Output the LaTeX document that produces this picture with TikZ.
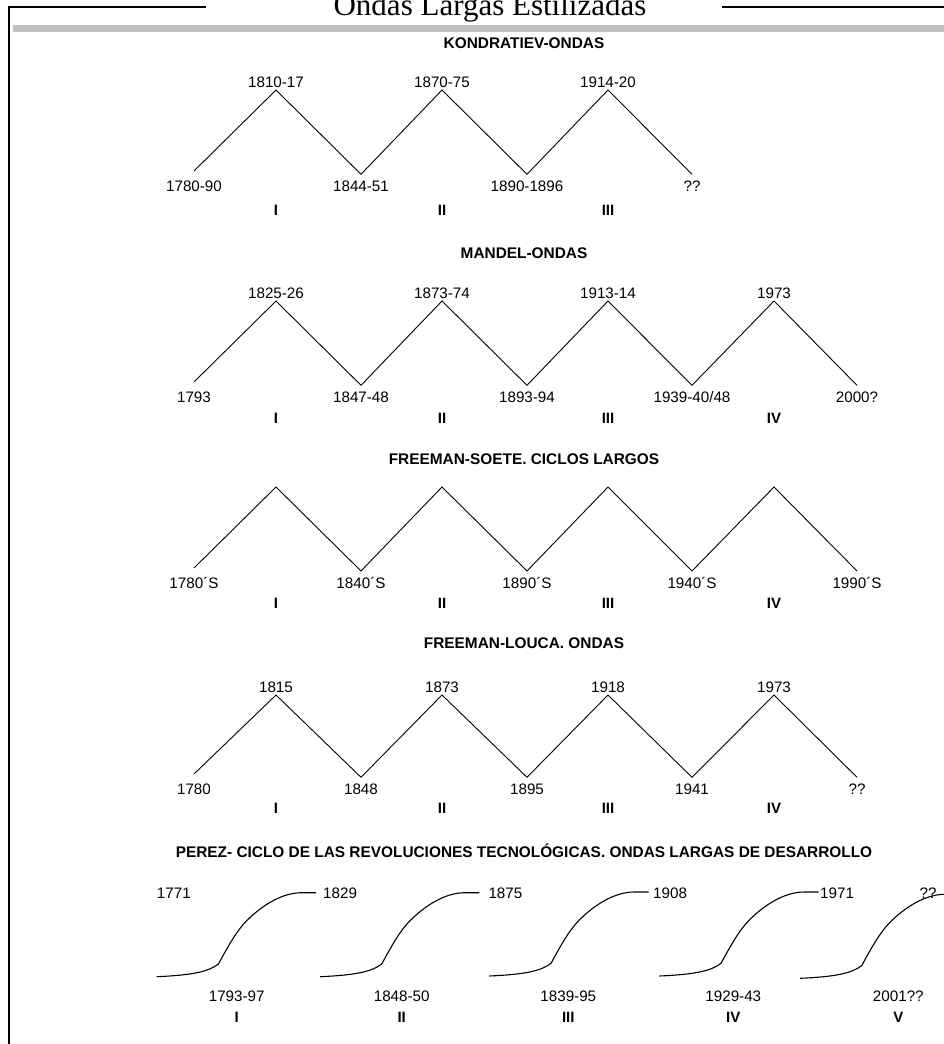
\documentclass[tikz,border=0pt]{standalone}
\usepackage{fontspec}
\setmainfont{Liberation Serif}
\setsansfont{Liberation Sans}
\usepackage{tikz}
\usetikzlibrary{positioning}
\usepackage{xcolor}
\definecolor{BarGray}{HTML}{C0C0C0}

\begin{document}
\begin{tikzpicture}[x=1pt,y=-1pt,
  framerule/.style={line width=2pt},
  waveline/.style={line width=0.9pt,line join=miter},
  growth/.style={line width=1.1pt,line join=round},
  year/.style={font=\sffamily\fontsize{15.2}{18}\selectfont,inner sep=0pt,text height=10.9pt,text depth=0pt},
  roman/.style={year,font=\sffamily\bfseries\fontsize{15}{18}\selectfont},
  heading/.style={year,font=\sffamily\bfseries\fontsize{15.4}{18}\selectfont}]
  \useasboundingbox (0,0) rectangle (943,1044);
  \draw[framerule] (8,6.7) -- (205.7,6.7);
  \draw[framerule] (722,6.7) -- (950,6.7);
  \draw[framerule] (9,5.7) -- (9,1050);
  \fill[BarGray] (13,25) rectangle (950,31.7);
  \node[font=\fontsize{31}{36}\selectfont,inner sep=0pt,anchor=base] (title) at (490,15.5) {Ondas Largas Estilizadas};

  \node[heading] (kondratiev) at (524,42.7) {KONDRATIEV-ONDAS};
  \foreach \px/\py [count=\i from 0] in {194/171,276/90,361/174.3,442/90,527/174.3,608/90,692/174.3}
    \coordinate (k\i) at (\px,\py);
  \draw[waveline] (k0) -- (k1) -- (k2) -- (k3) -- (k4) -- (k5) -- (k6);
  \foreach \n/\t in {1/1810-17,3/1870-75,5/1914-20}
    \node[year,above=2.6pt of k\n] (k\n-t) {\t};
  \foreach \n/\t in {2/1844-51,4/1890-1896,6/??}
    \node[year,below=6.4pt of k\n] (k\n-b) {\t};
  \node[year] (k0-b) at (k2-b -| k0) {1780-90};
  \coordinate (krow) at (0,210);
  \foreach \n/\t in {1/I,3/II,5/III}
    \node[roman] (k\n-r) at (k\n |- krow) {\t};

  \node[heading] (mandel) at (524,252.7) {MANDEL-ONDAS};
  \foreach \px/\py [count=\i from 0] in {194/382,276/301,361/385.3,442/301,527/385.3,608/301,692/385.3,774/301,857/385.3}
    \coordinate (m\i) at (\px,\py);
  \draw[waveline] (m0) -- (m1) -- (m2) -- (m3) -- (m4) -- (m5) -- (m6) -- (m7) -- (m8);
  \foreach \n/\t in {1/1825-26,3/1873-74,5/1913-14,7/1973}
    \node[year,above=2.6pt of m\n] (m\n-t) {\t};
  \foreach \n/\t in {2/1847-48,4/1893-94,6/{1939-40/48},8/2000?}
    \node[year,below=6.4pt of m\n] (m\n-b) {\t};
  \node[year] (m0-b) at (m2-b -| m0) {1793};
  \coordinate (mrow) at (0,418.3);
  \foreach \n/\t in {1/I,3/II,5/III,7/IV}
    \node[roman] (m\n-r) at (m\n |- mrow) {\t};

  \node[heading] (soete) at (524,459) {FREEMAN-SOETE. CICLOS LARGOS};
  \foreach \px/\py [count=\i from 0] in {194/568,276/487,361/571,442/487,527/571,608/487,692/571,774/487,857/571}
    \coordinate (s\i) at (\px,\py);
  \draw[waveline] (s0) -- (s1) -- (s2) -- (s3) -- (s4) -- (s5) -- (s6) -- (s7) -- (s8);
  \foreach \n/\t in {2/1840´S,4/1890´S,6/1940´S,8/1990´S}
    \node[year,below=6.4pt of s\n] (s\n-b) {\t};
  \node[year] (s0-b) at (s2-b -| s0) {1780´S};
  \coordinate (srow) at (0,603.3);
  \foreach \n/\t in {1/I,3/II,5/III,7/IV}
    \node[roman] (s\n-r) at (s\n |- srow) {\t};

  \node[heading] (louca) at (524,643.3) {FREEMAN-LOUCA. ONDAS};
  \foreach \px/\py [count=\i from 0] in {194/774,276/695,361/777.3,442/695,527/777.3,608/695,692/777.3,774/695,857/777.3}
    \coordinate (l\i) at (\px,\py);
  \draw[waveline] (l0) -- (l1) -- (l2) -- (l3) -- (l4) -- (l5) -- (l6) -- (l7) -- (l8);
  \foreach \n/\t in {1/1815,3/1873,5/1918,7/1973}
    \node[year,above=2.6pt of l\n] (l\n-t) {\t};
  \foreach \n/\t in {2/1848,4/1895,6/1941,8/??}
    \node[year,below=6.4pt of l\n] (l\n-b) {\t};
  \node[year] (l0-b) at (l2-b -| l0) {1780};
  \coordinate (lrow) at (0,808.3);
  \foreach \n/\t in {1/I,3/II,5/III,7/IV}
    \node[roman] (l\n-r) at (l\n |- lrow) {\t};

  \node[heading] (perez) at (524,851.7) {PEREZ- CICLO DE LAS REVOLUCIONES TECNOLÓGICAS. ONDAS LARGAS DE DESARROLLO};
  \foreach \px/\py [count=\i] in {156.7/976.7,320/976.7,489.3/976,659.3/976,800/978.3}
    \draw[growth,shift={(\px,\py)}] (0,0) coordinate (p\i) .. controls (35,-1.5) and (52,-5) .. (61.7,-12.7)
      .. controls (67,-22) and (78,-44) .. (90,-56) .. controls (105,-71) and (125,-84) .. (145,-84) -- (159.3,-84) coordinate (q\i);
  \foreach \lx/\t [count=\i] in {156.7/1771,323/1829,488.3/1875,653/1908,820/1971}
    \node[year,anchor=west] (p\i-t) at (\lx,893) {\t};
  \node[year] (p6-t) at (928,893) {??};
  \foreach \lx/\t/\r [count=\i] in {236.7/1793-97/I,401.7/1848-50/II,568.3/1839-95/III,733.3/1929-43/IV,898.3/2001??/V}{
    \node[year] (p\i-b) at (\lx,996) {\t};
    \node[roman] (p\i-r) at (\lx,1016.7) {\r};
  }
\end{tikzpicture}
\end{document}
